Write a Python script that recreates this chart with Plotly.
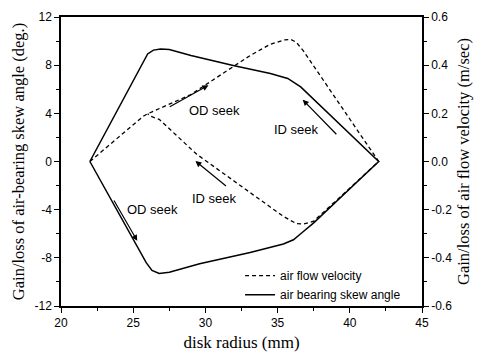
import plotly.graph_objects as go

# ---- data ----
# air bearing skew angle (deg.), closed loop: upper branch 22->42, lower branch 42->22
skew_x = [22.0, 26.0, 26.4, 26.9, 27.5, 29.0, 32.0, 34.5, 35.7, 36.6, 42.0,
          37.5, 36.6, 36.1, 35.4, 33.1, 29.6, 27.5, 26.8, 26.3, 25.9, 22.0]
skew_y = [0.0, 8.93, 9.25, 9.35, 9.3, 8.8, 7.95, 7.3, 6.9, 6.2, 0.0,
          -5.1, -6.0, -6.5, -6.85, -7.55, -8.5, -9.2, -9.3, -9.05, -8.4, 0.0]

# air flow velocity (m/sec), closed loop
flow_x = [22.0, 25.7, 26.0, 28.96, 33.1, 34.5, 35.5, 35.9, 36.3, 36.8, 42.0,
          37.5, 36.8, 36.3, 35.4, 33.1, 30.8, 29.4, 26.8, 26.2, 26.0]
flow_y = [0.0, 0.188, 0.198, 0.277, 0.44, 0.487, 0.505, 0.507, 0.495, 0.458, 0.0,
          -0.248, -0.26, -0.258, -0.228, -0.13, -0.033, 0.03, 0.175, 0.188, 0.198]

x_ticks = [20, 25, 30, 35, 40, 45]
y_ticks = [-12, -8, -4, 0, 4, 8, 12]
y_ticktext = ["-12", "-8", "-4", "0", "4", "8", "12"]
y2_ticks = [-0.6, -0.4, -0.2, 0.0, 0.2, 0.4, 0.6]
y2_ticktext = ["-0.6", "-0.4", "-0.2", "0.0", "0.2", "0.4", "0.6"]

# seek-direction labels: (text, text_x, text_y, head_x, head_y, tail_x, tail_y)
seek_labels = ["OD seek", "ID seek", "ID seek", "OD seek"]
seek_text_x = [30.63, 36.32, 30.63, 26.32]
seek_text_y = [4.24, 2.63, -3.11, -4.0]
arrow_head_x = [30.21, 36.74, 29.31, 25.28]
arrow_head_y = [6.34, 5.13, 0.04, -6.59]
arrow_tail_x = [27.43, 39.17, 31.53, 23.61]
arrow_tail_y = [4.48, 2.14, -2.14, -3.11]

SANS = "Liberation Sans, Arial, sans-serif"
SERIF = "Liberation Serif, Times New Roman, serif"

fig = go.Figure()
fig.add_trace(go.Scatter(x=flow_x, y=flow_y, mode="lines", name="air flow velocity",
                         yaxis="y2",
                         line=dict(color="black", width=1.3, dash="4px,3px")))
fig.add_trace(go.Scatter(x=skew_x, y=skew_y, mode="lines", name="air bearing skew angle",
                         line=dict(color="black", width=1.5)))

annotations = []
for t, tx, ty, hx, hy, ax_, ay_ in zip(seek_labels, seek_text_x, seek_text_y,
                                       arrow_head_x, arrow_head_y, arrow_tail_x, arrow_tail_y):
    annotations.append(dict(x=tx, y=ty, xref="x", yref="y", text=t, showarrow=False,
                            font=dict(family=SANS, size=13, color="black")))
    annotations.append(dict(x=hx, y=hy, xref="x", yref="y", ax=ax_, ay=ay_,
                            axref="x", ayref="y", text="", showarrow=True,
                            arrowhead=2, arrowsize=1, arrowwidth=1.2,
                            arrowcolor="black", standoff=0, startstandoff=0))

axis_common = dict(showline=True, linecolor="black", linewidth=1.5, showgrid=False,
                   zeroline=False, ticks="outside", ticklen=5, tickwidth=1.2,
                   tickcolor="black", tickfont=dict(family=SANS, size=12, color="black"))

fig.update_layout(
    width=485, height=359,
    margin=dict(l=61, r=63, t=10, b=52),
    paper_bgcolor="white", plot_bgcolor="white",
    showlegend=True,
    legend=dict(x=0.496, y=0.155, xanchor="left", yanchor="top",
                bgcolor="rgba(0,0,0,0)", borderwidth=0,
                font=dict(family=SANS, size=12, color="black"),
                tracegroupgap=0),
    xaxis=dict(range=[20, 45], tickvals=x_ticks, mirror=True,
               minor=dict(tickmode="linear", tick0=20, dtick=2.5, ticks="outside",
                          ticklen=3, tickcolor="black"),
               title=dict(text="disk radius (mm)", font=dict(family=SERIF, size=17, color="black"),
                          standoff=7),
               **axis_common),
    yaxis=dict(range=[-12, 12], tickvals=y_ticks, ticktext=y_ticktext,
               minor=dict(tickmode="linear", tick0=-12, dtick=2, ticks="outside",
                          ticklen=3, tickcolor="black"),
               title=dict(text="Gain/loss of air-bearing skew angle (deg.)",
                          font=dict(family=SERIF, size=16.5, color="black"), standoff=6),
               **axis_common),
    yaxis2=dict(range=[-0.6, 0.6], tickvals=y2_ticks, ticktext=y2_ticktext,
                overlaying="y", side="right", anchor="x",
                minor=dict(tickmode="linear", tick0=-0.6, dtick=0.1, ticks="outside",
                           ticklen=3, tickcolor="black"),
                title=dict(text="Gain/loss of air flow velocity (m/sec)",
                           font=dict(family=SERIF, size=16.5, color="black"), standoff=6),
                **axis_common),
    annotations=annotations,
)

fig.write_html("out.html")
